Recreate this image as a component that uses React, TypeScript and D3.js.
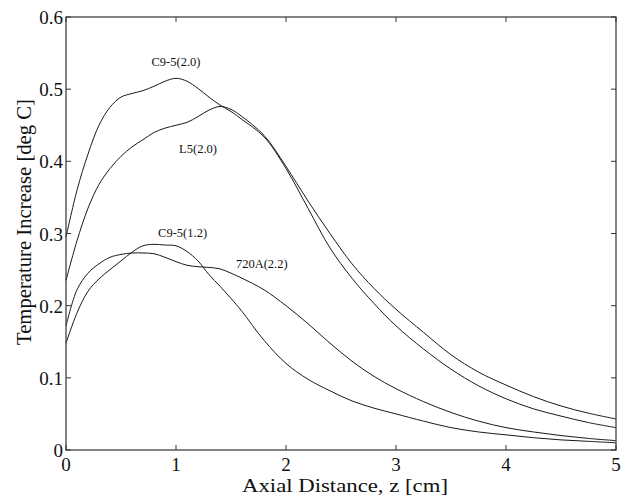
import React from "react";
import * as d3 from "d3";

const zs = [0, 0.1, 0.2, 0.3, 0.4, 0.5, 0.6, 0.7, 0.8, 0.9, 1.0, 1.1, 1.2, 1.3, 1.4, 1.5, 1.6, 1.8, 2.0, 2.2, 2.4, 2.6, 2.8, 3.0, 3.25, 3.5, 3.75, 4.0, 4.25, 4.5, 4.75, 5.0];

const c95_20 = [0.295, 0.36, 0.41, 0.45, 0.475, 0.489, 0.494, 0.498, 0.504, 0.511, 0.515, 0.511, 0.501, 0.489, 0.478, 0.469, 0.458, 0.434, 0.39, 0.335, 0.28, 0.238, 0.203, 0.172, 0.14, 0.112, 0.089, 0.071, 0.057, 0.047, 0.038, 0.031];
const l5_20 = [0.235, 0.29, 0.335, 0.368, 0.39, 0.407, 0.42, 0.43, 0.44, 0.446, 0.45, 0.454, 0.462, 0.471, 0.476, 0.472, 0.462, 0.436, 0.393, 0.345, 0.3, 0.258, 0.224, 0.195, 0.163, 0.132, 0.108, 0.09, 0.074, 0.061, 0.051, 0.043];
const a720_22 = [0.172, 0.222, 0.245, 0.258, 0.267, 0.271, 0.273, 0.273, 0.272, 0.267, 0.261, 0.256, 0.254, 0.253, 0.251, 0.245, 0.238, 0.222, 0.2, 0.175, 0.148, 0.123, 0.102, 0.085, 0.067, 0.052, 0.04, 0.031, 0.025, 0.02, 0.016, 0.013];
const c95_12 = [0.148, 0.19, 0.22, 0.237, 0.25, 0.262, 0.274, 0.283, 0.285, 0.284, 0.283, 0.275, 0.262, 0.243, 0.227, 0.21, 0.192, 0.152, 0.12, 0.098, 0.082, 0.068, 0.058, 0.05, 0.04, 0.031, 0.025, 0.021, 0.017, 0.014, 0.012, 0.01];

const xTicks = [0, 1, 2, 3, 4, 5];
const yTicks = [0, 0.1, 0.2, 0.3, 0.4, 0.5, 0.6];

// label anchors in data units
const labels = [
  { text: "C9-5(2.0)", x: 1.0, y: 0.532 },
  { text: "L5(2.0)", x: 1.2, y: 0.411 },
  { text: "C9-5(1.2)", x: 1.06, y: 0.295 },
  { text: "720A(2.2)", x: 1.78, y: 0.252 },
];

const W = 628;
const H = 498;
const left = 66, right = 616, top = 17, bottom = 450;
const font = "'Liberation Serif', 'DejaVu Serif', serif";

export default function App() {
  const x = d3.scaleLinear().domain([0, 5]).range([left, right]);
  const y = d3.scaleLinear().domain([0, 0.6]).range([bottom, top]);
  const line = d3
    .line<number>()
    .x((_d, i) => x(zs[i]))
    .y((d) => y(d))
    .curve(d3.curveCatmullRom.alpha(0.5));

  const series = [c95_20, l5_20, a720_22, c95_12];
  const tk = 5;

  return (
    <svg
      width={W}
      height={H}
      style={{ position: "absolute", left: 0, top: 0, background: "#fff" }}
      fontFamily={font}
    >
      {series.map((s, i) => (
        <path key={i} d={line(s) || ""} fill="none" stroke="#1a1a1a" strokeWidth={1} />
      ))}

      {/* frame */}
      <rect x={left} y={top} width={right - left} height={bottom - top} fill="none" stroke="#333" strokeWidth={1.2} />

      {/* x ticks, bottom + top mirror */}
      {xTicks.map((t) => (
        <g key={"x" + t}>
          <line x1={x(t)} x2={x(t)} y1={bottom} y2={bottom - tk} stroke="#333" />
          <line x1={x(t)} x2={x(t)} y1={top} y2={top + tk} stroke="#333" />
          <text x={x(t)} y={471} textAnchor="middle" fontSize={19} fill="#111">
            {d3.format("d")(t)}
          </text>
        </g>
      ))}

      {/* y ticks, left + right mirror */}
      {yTicks.map((t) => (
        <g key={"y" + t}>
          <line x1={left} x2={left + tk} y1={y(t)} y2={y(t)} stroke="#333" />
          <line x1={right} x2={right - tk} y1={y(t)} y2={y(t)} stroke="#333" />
          <text x={63} y={y(t) + 7} textAnchor="end" fontSize={19} fill="#111">
            {t === 0 ? "0" : d3.format(".1f")(t)}
          </text>
        </g>
      ))}

      {labels.map((l) => (
        <text key={l.text} x={x(l.x)} y={y(l.y)} textAnchor="middle" fontSize={12.5} fill="#111">
          {l.text}
        </text>
      ))}

      <text x={345} y={492} textAnchor="middle" fontSize={19} textLength={206} lengthAdjust="spacingAndGlyphs" fill="#111">
        Axial Distance, z [cm]
      </text>
      <text
        transform={`translate(31,222) rotate(-90)`}
        textAnchor="middle"
        fontSize={20}
        textLength={246}
        lengthAdjust="spacingAndGlyphs"
        fill="#111"
      >
        Temperature Increase [deg C]
      </text>
    </svg>
  );
}
